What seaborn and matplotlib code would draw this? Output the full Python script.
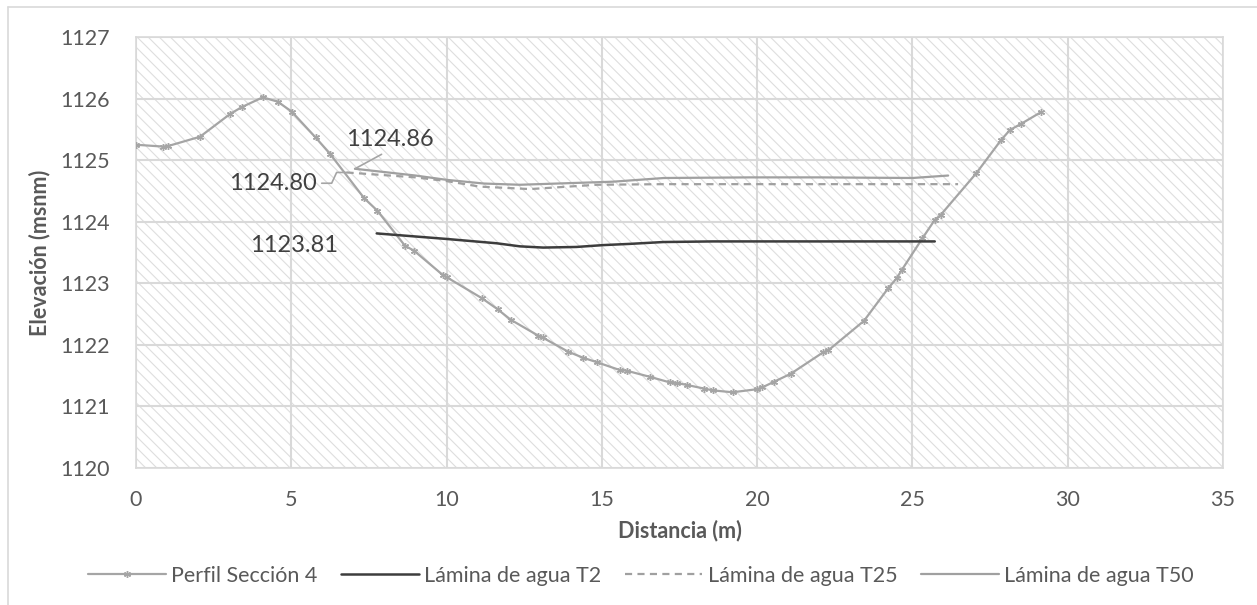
import matplotlib
matplotlib.use("Agg")
import matplotlib.pyplot as plt
from matplotlib.patches import Rectangle
from matplotlib.lines import Line2D
import seaborn as sns
import pandas as pd

# Ground profile of section 4 (distance m, elevation msnm)
perfil_x = [0.0, 0.88, 1.04, 2.06, 3.03, 3.40, 4.08, 4.56, 5.01, 5.78, 6.25, 7.35,
            7.77, 8.66, 8.95, 9.89, 10.0, 11.13, 11.64, 12.06, 12.95, 13.09, 13.91,
            14.40, 14.83, 15.58, 15.80, 16.55, 17.19, 17.41, 17.73, 18.29, 18.59,
            19.21, 20.0, 20.17, 20.54, 21.08, 22.13, 22.29, 23.44, 24.22, 24.49,
            24.65, 25.32, 25.72, 25.91, 27.06, 27.86, 28.14, 28.50, 29.14]
perfil_y = [1125.25, 1125.22, 1125.23, 1125.38, 1125.75, 1125.86, 1126.02, 1125.95,
            1125.79, 1125.37, 1125.10, 1124.38, 1124.18, 1123.61, 1123.53, 1123.13,
            1123.10, 1122.76, 1122.58, 1122.41, 1122.15, 1122.12, 1121.89, 1121.79,
            1121.72, 1121.59, 1121.58, 1121.48, 1121.39, 1121.38, 1121.35, 1121.29,
            1121.26, 1121.23, 1121.28, 1121.31, 1121.40, 1121.53, 1121.88, 1121.91,
            1122.39, 1122.92, 1123.08, 1123.21, 1123.73, 1124.03, 1124.11, 1124.79,
            1125.33, 1125.49, 1125.59, 1125.78]

# Water surface, return period 2 years
t2_x = [7.75, 10.0, 11.61, 12.36, 13.11, 14.18, 15.04, 15.9, 16.98, 18.58, 20.73, 25.72]
t2_y = [1123.81, 1123.72, 1123.65, 1123.60, 1123.58, 1123.59, 1123.62, 1123.64,
        1123.67, 1123.68, 1123.68, 1123.68]

# Water surface, return period 25 years
t25_x = [6.78, 9.0, 10.0, 11.07, 12.69, 14.83, 17.0, 20.73, 26.47]
t25_y = [1124.80, 1124.72, 1124.66, 1124.57, 1124.53, 1124.60, 1124.61, 1124.61, 1124.61]

# Water surface, return period 50 years
t50_x = [7.05, 9.0, 10.0, 11.2, 12.36, 15.36, 17.0, 19.77, 22.0, 25.0, 26.15]
t50_y = [1124.86, 1124.75, 1124.68, 1124.62, 1124.60, 1124.65, 1124.71, 1124.72,
         1124.72, 1124.71, 1124.75]

labels = ["Perfil Sección 4", "Lámina de agua T2", "Lámina de agua T25", "Lámina de agua T50"]
x_ticks = [0, 5, 10, 15, 20, 25, 30, 35]
y_ticks = [1120, 1121, 1122, 1123, 1124, 1125, 1126, 1127]

sns.set_theme(style="white")
plt.rcParams["font.family"] = ["Lato", "DejaVu Sans"]
plt.rcParams["hatch.linewidth"] = 0.8

GRID = "#d9d9d9"
TXT = "#595959"
LBL = "#404040"
C_PERFIL = "#a5a5a5"
C_T2 = "#3d3d3d"
C_T25 = "#a0a0a0"
C_T50 = "#a0a0a0"
FS = 15.5

fig = plt.figure(figsize=(12.57, 6.05), dpi=100)
ax = fig.add_axes([136 / 1257, 1 - 468 / 605, (1223 - 136) / 1257, (468 - 37) / 605])

# diagonal hatched plot area
ax.add_patch(Rectangle((0, 0), 1, 1, transform=ax.transAxes, facecolor="none",
                       edgecolor="#dedede", hatch="\\\\\\", linewidth=0, zorder=0))
ax.set_axisbelow(True)
ax.grid(True, color=GRID, linewidth=1.5)

df_p = pd.DataFrame({"x": perfil_x, "y": perfil_y})
sns.lineplot(data=df_p, x="x", y="y", ax=ax, sort=False, estimator=None,
             color=C_PERFIL, linewidth=1.6, marker=(6, 2, 0), markersize=5,
             markeredgecolor=C_PERFIL, markeredgewidth=1.0, zorder=3)
df_2 = pd.DataFrame({"x": t2_x, "y": t2_y})
sns.lineplot(data=df_2, x="x", y="y", ax=ax, sort=False, estimator=None,
             color=C_T2, linewidth=1.8, zorder=4)
df_25 = pd.DataFrame({"x": t25_x, "y": t25_y})
sns.lineplot(data=df_25, x="x", y="y", ax=ax, sort=False, estimator=None,
             color=C_T25, linewidth=1.6, linestyle=(0, (3.2, 2.4)), zorder=4)
df_50 = pd.DataFrame({"x": t50_x, "y": t50_y})
sns.lineplot(data=df_50, x="x", y="y", ax=ax, sort=False, estimator=None,
             color=C_T50, linewidth=1.6, zorder=4)

ax.set_xlim(0, 35)
ax.set_ylim(1120, 1127)
ax.set_xticks(x_ticks)
ax.set_yticks(y_ticks)
ax.tick_params(axis="both", length=0, labelsize=FS, labelcolor=TXT)
ax.tick_params(axis="x", pad=16)
ax.tick_params(axis="y", pad=19)
for s in ax.spines.values():
    s.set_color(GRID)
    s.set_linewidth(1.2)

ax.set_xlabel("Distancia (m)", fontsize=FS, fontweight="bold", color=TXT, labelpad=7)
ax.set_ylabel("Elevación (msnm)", fontsize=FS, fontweight="bold", color=TXT, labelpad=7)

# data labels at the start of each water surface
lab_fs = 17
x50, y50 = t50_x[0], t50_y[0]
ax.annotate(f"{y50:.2f}", xy=(x50, y50), xytext=(x50 + 1.13, y50 + 0.48),
            ha="center", va="center", fontsize=lab_fs, color=LBL,
            arrowprops=dict(arrowstyle="-", color=C_PERFIL, lw=1.2, shrinkA=2, shrinkB=0,
                            relpos=(0.5, 0.0)), zorder=6)

x25, y25 = t25_x[0], t25_y[0]
ax.plot([x25 - 0.80, x25 - 0.48, x25 - 0.32, x25],
        [y25 - 0.175, y25 - 0.175, y25, y25], color=C_PERFIL, lw=1.2, zorder=6)
ax.text(x25 - 0.95, y25 - 0.175, f"{y25:.2f}", ha="right", va="center",
        fontsize=lab_fs, color=LBL, zorder=6)

x2, y2 = t2_x[0], t2_y[0]
ax.text(x2 - 2.66, y2 - 0.19, f"{y2:.2f}", ha="center", va="center",
        fontsize=lab_fs, color=LBL, zorder=6)

# legend along the bottom
handles = [
    Line2D([], [], color=C_PERFIL, lw=1.6, marker=(6, 2, 0), markersize=5,
           markeredgecolor=C_PERFIL),
    Line2D([], [], color=C_T2, lw=1.8),
    Line2D([], [], color=C_T25, lw=1.6, linestyle=(0, (3.2, 2.4))),
    Line2D([], [], color=C_T50, lw=1.6),
]
fig.legend(handles, labels, loc="center", bbox_to_anchor=(641 / 1257, 1 - 576 / 605),
           ncol=4, frameon=False, fontsize=FS, labelcolor=TXT, handlelength=3.6,
           handletextpad=0.25, columnspacing=1.1)

# chart area outline
fig.add_artist(Line2D([8 / 1257, 8 / 1257], [0, 1 - 7 / 605], transform=fig.transFigure,
                      color=GRID, lw=1.2))
fig.add_artist(Line2D([8 / 1257, 1], [1 - 7 / 605, 1 - 7 / 605], transform=fig.transFigure,
                      color=GRID, lw=1.2))

fig.savefig("out.png", dpi=100)
